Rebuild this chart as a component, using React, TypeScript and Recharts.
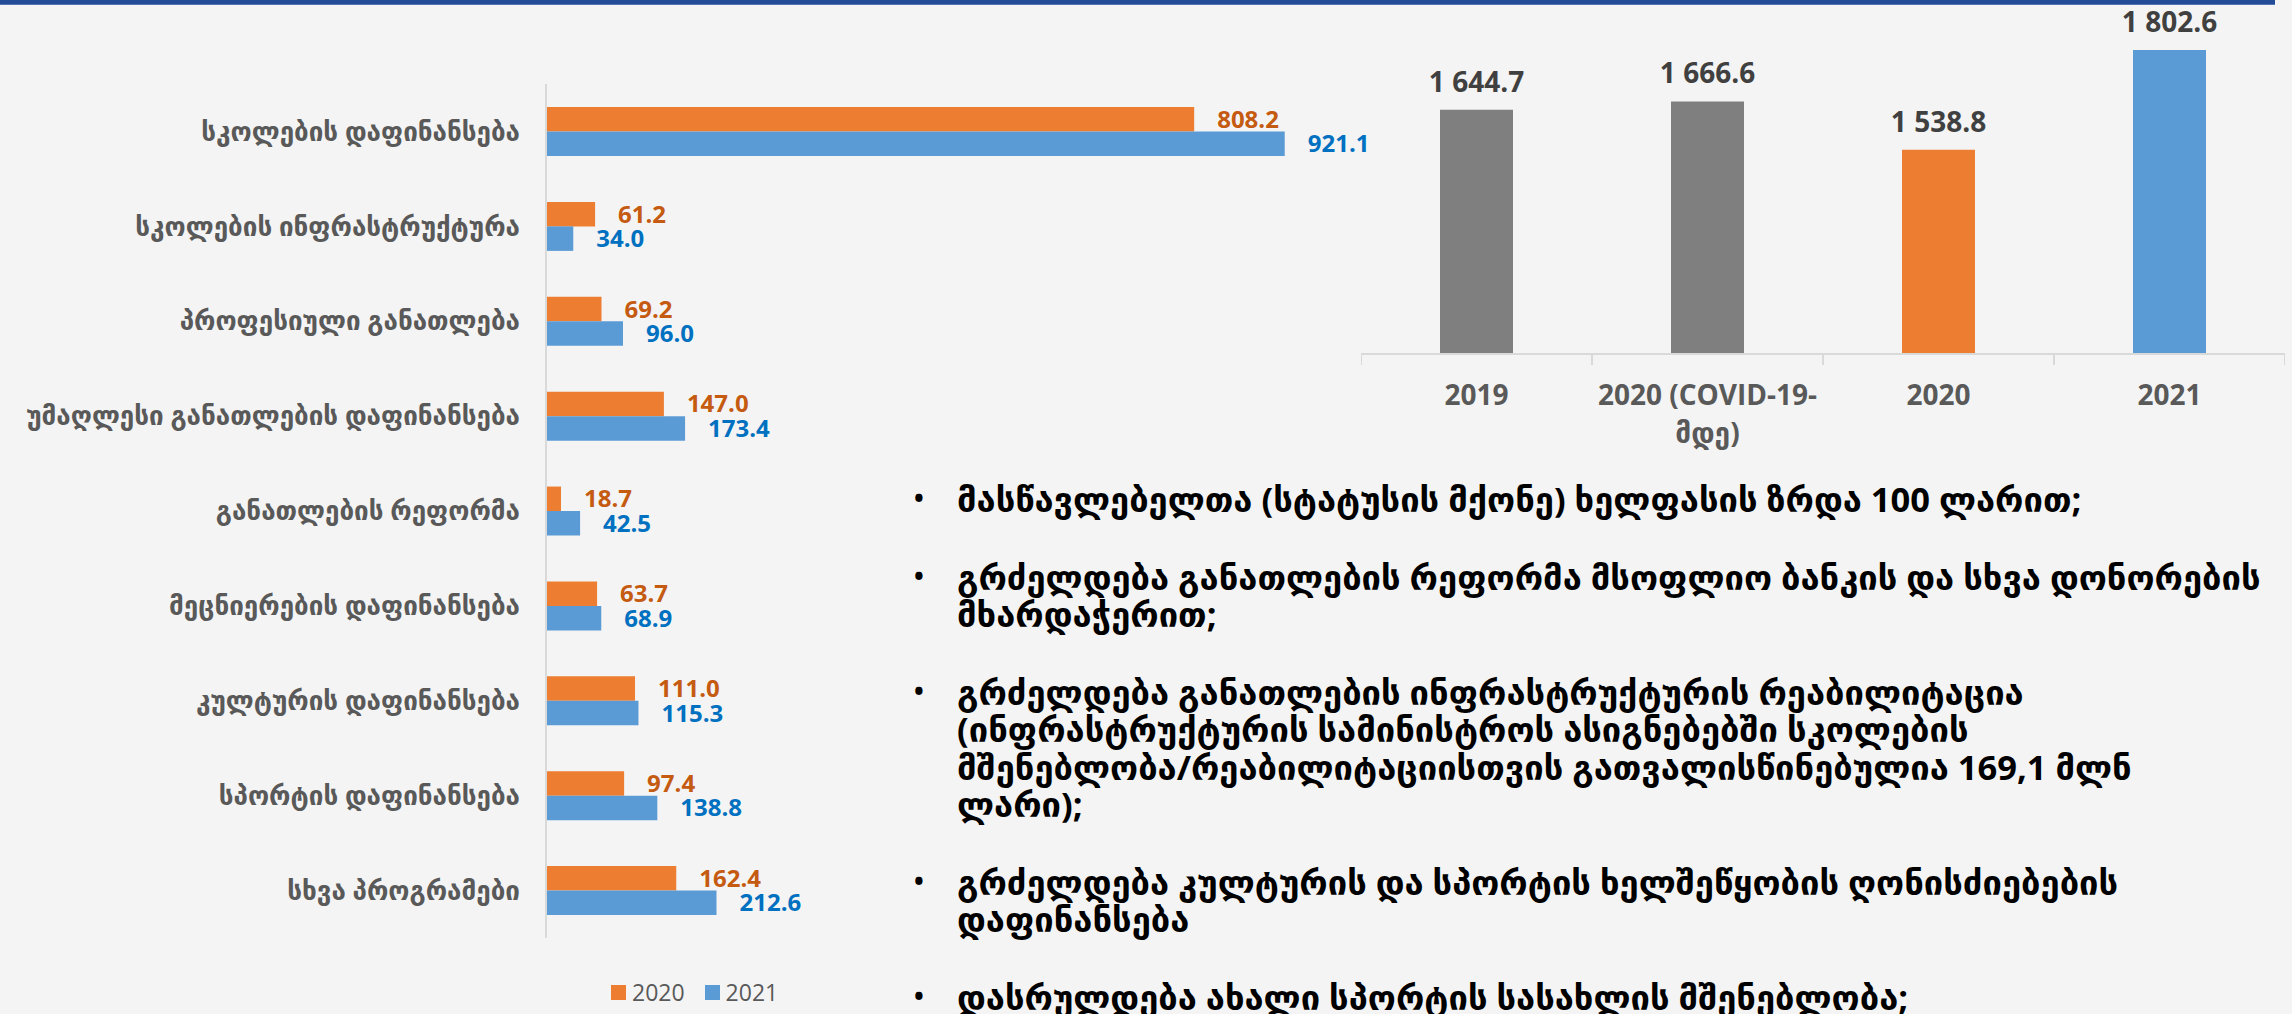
import React from 'react';
import { BarChart, Bar, XAxis, YAxis, LabelList, Legend, Cell } from 'recharts';

const FONT = "'Open Sans', 'DejaVu Sans', sans-serif";

// left chart: programs, mln GEL
const programs = [
  'სკოლების დაფინანსება',
  'სკოლების ინფრასტრუქტურა',
  'პროფესიული განათლება',
  'უმაღლესი განათლების დაფინანსება',
  'განათლების რეფორმა',
  'მეცნიერების დაფინანსება',
  'კულტურის დაფინანსება',
  'სპორტის დაფინანსება',
  'სხვა პროგრამები',
];
const values2020 = [808.2, 61.2, 69.2, 147.0, 18.7, 63.7, 111.0, 97.4, 162.4];
const values2021 = [921.1, 34.0, 96.0, 173.4, 42.5, 68.9, 115.3, 138.8, 212.6];

// right chart: totals
const totalLabels = ['2019', '2020 (COVID-19-\nმდე)', '2020', '2021'];
const totalValues = [1644.7, 1666.6, 1538.8, 1802.6];
const totalColors = ['#7F7F7F', '#7F7F7F', '#ED7D31', '#5B9BD5'];

const notes = [
  ['მასწავლებელთა (სტატუსის მქონე) ხელფასის ზრდა 100 ლარით;'],
  ['გრძელდება განათლების რეფორმა მსოფლიო ბანკის და სხვა დონორების', 'მხარდაჭერით;'],
  [
    'გრძელდება განათლების ინფრასტრუქტურის რეაბილიტაცია',
    '(ინფრასტრუქტურის სამინისტროს ასიგნებებში სკოლების',
    'მშენებლობა/რეაბილიტაციისთვის გათვალისწინებულია 169,1 მლნ',
    'ლარი);',
  ],
  ['გრძელდება კულტურის და სპორტის ხელშეწყობის ღონისძიებების', 'დაფინანსება'],
  ['დასრულდება ახალი სპორტის სასახლის მშენებლობა;'],
];

const programData = programs.map((name, i) => ({ name, y2020: values2020[i], y2021: values2021[i] }));
const totalData = totalLabels.map((name, i) => ({ name, value: totalValues[i] }));

const fmtTotal = (v: number) => {
  const [int, dec] = v.toFixed(1).split('.');
  return int.replace(/\B(?=(\d{3})+(?!\d))/g, ' ') + '.' + dec;
};

function TotalTick(props: any) {
  const { x, y, payload, index, visibleTicksCount } = props;
  const off = payload.offset || 0;
  const lines = String(payload.value).split('\n');
  return (
    <g>
      <line x1={x - off} x2={x - off} y1={y} y2={y + 11} stroke="#D9D9D9" strokeWidth={2} />
      {index === visibleTicksCount - 1 && (
        <line x1={x + off} x2={x + off} y1={y} y2={y + 11} stroke="#D9D9D9" strokeWidth={2} />
      )}
      <text x={x} y={y + 51} textAnchor="middle" fill="#595959" fontSize={28} fontWeight={700} fontFamily={FONT}>
        {lines.map((l, i) => (
          <tspan key={i} x={x} dy={i === 0 ? 0 : 38}>{l}</tspan>
        ))}
      </text>
    </g>
  );
}

function ProgramLegend() {
  const items = [
    { label: '2020', color: '#ED7D31' },
    { label: '2021', color: '#5B9BD5' },
  ];
  return (
    <div style={{ display: 'flex', alignItems: 'center', fontFamily: FONT, fontSize: 23, color: '#595959' }}>
      {items.map((it) => (
        <div key={it.label} style={{ display: 'flex', alignItems: 'center', marginRight: 20 }}>
          <span style={{ width: 15, height: 15, background: it.color, display: 'inline-block', marginRight: 6 }} />
          <span>{it.label}</span>
        </div>
      ))}
    </div>
  );
}

export default function App() {
  return (
    <div style={{ position: 'absolute', left: 0, top: 0, width: 2292, height: 1014, background: '#F4F4F4', overflow: 'hidden' }}>
      <div style={{ position: 'absolute', left: 0, top: 0, width: 2275, height: 4, background: '#234B96', borderBottom: '1px solid #5273B5' }} />

      <div style={{ position: 'absolute', left: 0, top: 0 }}>
        <BarChart
          width={1410}
          height={1014}
          layout="vertical"
          data={programData}
          margin={{ top: 84, right: 62, bottom: 76, left: 0 }}
          barGap={0}
        >
          <XAxis type="number" domain={[0, 1000]} hide />
          <YAxis
            type="category"
            dataKey="name"
            width={546}
            interval={0}
            tickSize={0}
            tickMargin={26}
            tickLine={false}
            axisLine={{ stroke: '#D9D9D9', strokeWidth: 2 }}
            tick={{ fill: '#595959', fontSize: 26, fontWeight: 700, fontFamily: FONT }}
          />
          <Bar dataKey="y2020" name="2020" fill="#ED7D31" barSize={24.5} isAnimationActive={false}>
            <LabelList dataKey="y2020" position="right" offset={23} formatter={(v: number) => v.toFixed(1)}
              fill="#C55A11" fontSize={24} fontWeight={700} fontFamily={FONT} />
          </Bar>
          <Bar dataKey="y2021" name="2021" fill="#5B9BD5" barSize={24.5} isAnimationActive={false}>
            <LabelList dataKey="y2021" position="right" offset={23} formatter={(v: number) => v.toFixed(1)}
              fill="#0070C0" fontSize={24} fontWeight={700} fontFamily={FONT} />
          </Bar>
          <Legend verticalAlign="middle" align="center" content={<ProgramLegend />}
            wrapperStyle={{ left: 611, top: 976, width: 220 }} />
        </BarChart>
      </div>

      <div style={{ position: 'absolute', left: 1361, top: 0 }}>
        <BarChart width={924} height={470} data={totalData} margin={{ top: 13, right: 0, bottom: 0, left: 0 }}>
          <XAxis
            dataKey="name"
            interval={0}
            height={116}
            tickSize={0}
            tickMargin={0}
            tickLine={false}
            axisLine={{ stroke: '#D9D9D9', strokeWidth: 2 }}
            tick={<TotalTick />}
          />
          <YAxis type="number" domain={[1000, 1900]} hide />
          <Bar dataKey="value" barSize={73} isAnimationActive={false}>
            {totalData.map((d, i) => (
              <Cell key={d.name} fill={totalColors[i]} />
            ))}
            <LabelList dataKey="value" position="top" offset={18} formatter={(v: number) => fmtTotal(v)}
              fill="#404040" fontSize={28} fontWeight={700} fontFamily={FONT} />
          </Bar>
        </BarChart>
      </div>

      <div style={{ position: 'absolute', left: 910, top: 480, fontFamily: FONT, fontWeight: 700, fontSize: 34.5, color: '#000', lineHeight: '37.5px' }}>
        {notes.map((lines, i) => (
          <div key={i} style={{ display: 'flex', marginBottom: 40 }}>
            <div style={{ width: 43, paddingLeft: 4, fontSize: 26 }}>•</div>
            <div style={{ whiteSpace: 'nowrap' }}>
              {lines.map((l, j) => (
                <div key={j}>{l}</div>
              ))}
            </div>
          </div>
        ))}
      </div>
    </div>
  );
}
